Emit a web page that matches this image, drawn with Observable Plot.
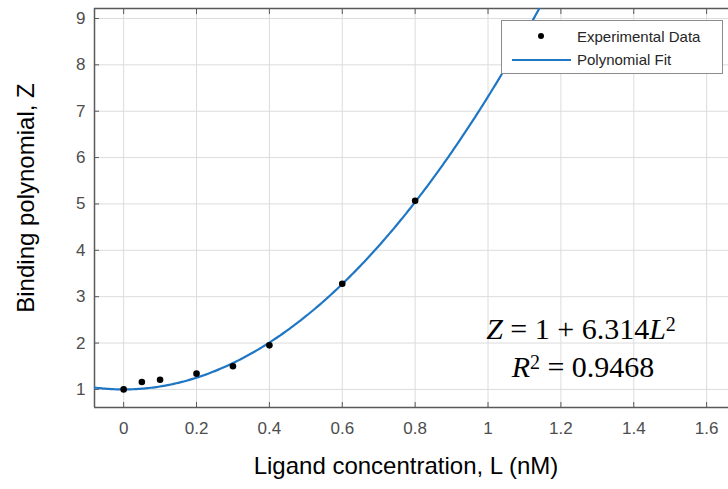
<!DOCTYPE html>
<html><head><meta charset="utf-8">
<script src="https://cdn.jsdelivr.net/npm/d3@7"></script>
<script src="https://cdn.jsdelivr.net/npm/@observablehq/plot@0.6"></script>
<style>
html,body{margin:0;background:#fff}
#wrap{position:relative;width:728px;height:489px;overflow:hidden}
#wrap svg{position:absolute;left:0;top:0}
.ov{position:absolute;white-space:nowrap}
.sans{font-family:'Liberation Sans',Arial,sans-serif}
.serif{font-family:'Liberation Serif','DejaVu Serif',serif;font-size:30px;line-height:30px;color:#000}
.serif sup{font-size:20px;line-height:0;vertical-align:0.42em}
</style>
</head><body><div id="wrap"></div>
<script>
// Data
const ligandConc = [0, 0.05, 0.1, 0.2, 0.3, 0.4, 0.6, 0.8];
const bindingZ = [1.00, 1.16, 1.21, 1.34, 1.50, 1.95, 3.28, 5.07];
// Fit shown in the chart: Z = 1 + 6.314 L^2
const fitIntercept = 1;
const fitCoef = 6.314;
const xTicks = [0, 0.2, 0.4, 0.6, 0.8, 1, 1.2, 1.4, 1.6];
const xTickLabels = ["0", "0.2", "0.4", "0.6", "0.8", "1", "1.2", "1.4", "1.6"];
const yTicks = [1, 2, 3, 4, 5, 6, 7, 8, 9];
const legendLabels = ["Experimental Data", "Polynomial Fit"];
const xTitle = "Ligand concentration, L (nM)";
const yTitle = "Binding polynomial, Z";

const points = ligandConc.map((L, i) => ({L, Z: bindingZ[i]}));
const fitL = d3.range(-0.1, 1.25, 0.005);
const fit = fitL.map(L => ({L, Z: fitIntercept + fitCoef * L * L}));

const xDom = [-0.08, 1.66], yDom = [0.61, 9.215];
const axisCol = "#5a5a5a";
const lineCol = "#1f77c4";
const font = "'Liberation Sans', Arial, sans-serif";

const svg = Plot.plot({
  width: 728, height: 489,
  marginLeft: 94, marginRight: 0, marginTop: 8, marginBottom: 82,
  style: {fontFamily: font},
  x: {domain: xDom, ticks: xTicks, label: null},
  y: {domain: yDom, ticks: yTicks, label: null},
  marks: [
    Plot.gridX(xTicks, {stroke: "#dcdcdc", strokeOpacity: 1}),
    Plot.gridY(yTicks, {stroke: "#dcdcdc", strokeOpacity: 1}),
    // inward ticks
    Plot.axisX(xTicks, {anchor: "bottom", tickSize: -5, tickFormat: () => "", stroke: axisCol}),
    Plot.axisX(xTicks, {anchor: "top", tickSize: -5, tickFormat: () => "", stroke: axisCol}),
    Plot.axisY(yTicks, {anchor: "left", tickSize: -5, tickFormat: () => "", stroke: axisCol}),
    // labels
    Plot.axisX(xTicks, {anchor: "bottom", tickSize: 0, tickPadding: 14, fontSize: 17, fill: "#4d4d4d", label: null,
      tickFormat: d => xTickLabels[xTicks.indexOf(d)]}),
    Plot.axisY(yTicks, {anchor: "left", tickSize: 0, tickPadding: 9, fontSize: 17, fill: "#4d4d4d", label: null}),
    // frame lines
    Plot.ruleX([xDom[0]], {stroke: axisCol, strokeWidth: 1.5}),
    Plot.ruleY([yDom[0]], {stroke: axisCol, strokeWidth: 1.5}),
    Plot.ruleY([yDom[1]], {stroke: axisCol, strokeWidth: 1.5}),
    Plot.line(fit, {x: "L", y: "Z", stroke: lineCol, strokeWidth: 2.2, clip: true}),
    Plot.dot(points, {x: "L", y: "Z", r: 3.3, fill: "#000", stroke: "none"})
  ]
});

const wrap = document.getElementById("wrap");
wrap.appendChild(svg);

function add(html, css, cls) {
  const d = document.createElement("div");
  d.className = "ov " + (cls || "");
  d.style.cssText = css;
  d.innerHTML = html;
  wrap.appendChild(d);
  return d;
}

// Axis titles
add(xTitle, "left:106px;top:454px;width:600px;text-align:center;font-size:24px;line-height:24px;color:#000", "sans");
add(yTitle, "left:-124px;top:186px;width:300px;text-align:center;font-size:24px;line-height:24px;color:#000;transform:rotate(-90deg)", "sans");

// Legend
add("", "left:501px;top:20px;width:220px;height:52px;border:1px solid #8c8c8c;background:#fff");
add("", "left:537.7px;top:32.7px;width:6.6px;height:6.6px;border-radius:50%;background:#000");
add("", `left:512px;top:59px;width:59px;height:2.2px;background:${lineCol}`);
add(legendLabels[0], "left:577px;top:29.3px;font-size:15px;line-height:15px;color:#262626", "sans");
add(legendLabels[1], "left:577px;top:52.3px;font-size:15px;line-height:15px;color:#262626", "sans");

// Equation annotation
add(`<i>Z</i> = 1 + ${fitCoef.toFixed(3)}<i>L</i><sup>2</sup>`, "left:431px;top:314px;width:300px;text-align:center", "serif");
add(`<i>R</i><sup>2</sup> = 0.9468`, "left:433px;top:352px;width:300px;text-align:center", "serif");
</script>
</body></html>
